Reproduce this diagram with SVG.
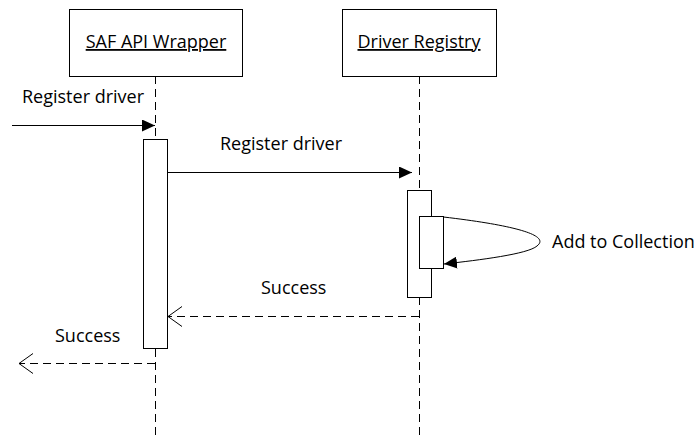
<svg xmlns="http://www.w3.org/2000/svg" width="700" height="439" viewBox="0 0 700 439">
<defs>
<style>
text{font-family:"Open Sans","Liberation Sans",sans-serif;font-size:18px;fill:#000}
.box{fill:#fff;stroke:#000;stroke-width:1}
.life{stroke:#000;stroke-width:1;stroke-dasharray:8,5;fill:none}
.msg{stroke:#000;stroke-width:1;fill:none}
.ret{stroke:#000;stroke-width:1;stroke-dasharray:8,5;fill:none}
</style>
<marker id="fill" markerWidth="14" markerHeight="12" refX="13" refY="6" orient="auto" markerUnits="userSpaceOnUse">
<path d="M0,0 L13,6 L0,12 Z" fill="#000"/>
</marker>
<marker id="open" markerWidth="16" markerHeight="22" refX="15" refY="11" orient="auto" markerUnits="userSpaceOnUse">
<path d="M1,1 L15,11 L1,21" fill="none" stroke="#000" stroke-width="1"/>
</marker>
</defs>
<g id="saf">
<rect class="box" x="69.5" y="9.5" width="173" height="67"/>
<text x="156" y="48" text-anchor="middle" text-decoration="underline">SAF API Wrapper</text>
<line class="life" x1="155.5" y1="76" x2="155.5" y2="439"/>
<rect class="box" x="143.5" y="139.5" width="24" height="209"/>
</g>
<g id="registry">
<rect class="box" x="342.5" y="9.5" width="154" height="67"/>
<text x="419" y="48" text-anchor="middle" text-decoration="underline">Driver Registry</text>
<line class="life" x1="419.5" y1="76" x2="419.5" y2="439"/>
<rect class="box" x="407.5" y="190.5" width="24" height="107"/>
<rect class="box" x="419.5" y="216.5" width="24" height="52"/>
</g>
<g id="connectors">
<line class="msg" x1="12" y1="125.5" x2="155" y2="125.5" marker-end="url(#fill)"/>
<text x="22" y="103">Register driver</text>
<line class="msg" x1="167" y1="172.5" x2="412" y2="172.5" marker-end="url(#fill)"/>
<text x="220" y="150">Register driver</text>
<path class="msg" d="M443.5,217 C520,226 550,236 537,246 C528,254 480,260 444,264" marker-end="url(#fill)"/>
<text x="552" y="248">Add to Collection</text>
<line class="ret" x1="419" y1="316.5" x2="168" y2="316.5" marker-end="url(#open)"/>
<text x="261" y="294">Success</text>
<line class="ret" x1="155" y1="363.5" x2="19" y2="363.5" marker-end="url(#open)"/>
<text x="55" y="342">Success</text>
</g>
</svg>
